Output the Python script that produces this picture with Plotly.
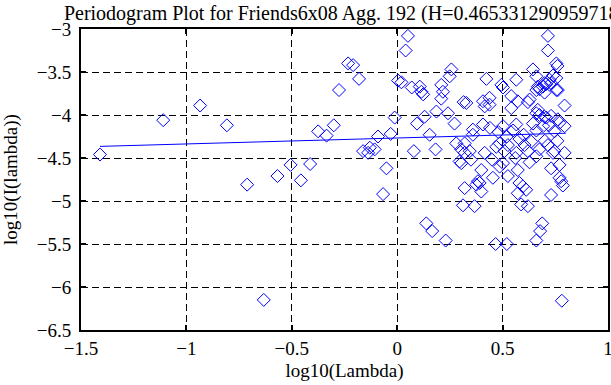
import plotly.graph_objects as go

# log10(Lambda) and log10(I(lambda)) periodogram points
log_lambda = [
    -1.41, -1.11, -0.935, -0.808, -0.712, -0.633, -0.568, -0.506, -0.457, -0.413,
    -0.375, -0.335, -0.301, -0.276, -0.233, -0.209, -0.181, -0.162, -0.138, -0.107,
    -0.130, -0.091, -0.067, -0.051, -0.031, -0.012, 0.004, 0.020, 0.040, 0.051,
    0.069, 0.079, 0.094, 0.107, 0.115, 0.123, 0.130, 0.138, 0.154, 0.166,
    0.182, 0.186, 0.209, 0.217, 0.209, 0.230, 0.241, 0.249, 0.257, 0.272,
    0.280, 0.296, 0.304, 0.304, 0.320, 0.315, 0.320, 0.312, 0.320, 0.328,
    0.344, 0.359, 0.359, 0.367, 0.375, 0.383, 0.391, 0.399, 0.399, 0.407,
    0.407, 0.415, 0.415, 0.423, 0.438, 0.438, 0.454, 0.467, 0.470, 0.486,
    0.486, 0.494, 0.502, 0.502, 0.502, 0.509, 0.520, 0.525, 0.525, 0.541,
    0.541, 0.565, 0.565, 0.565, 0.572, 0.572, 0.572, 0.580, 0.588, 0.596,
    0.604, 0.612, 0.620, 0.620, 0.628, 0.628, 0.636, 0.644, 0.644, 0.660,
    0.660, 0.660, 0.660, 0.667, 0.667, 0.675, 0.675, 0.675, 0.678, 0.688,
    0.691, 0.692, 0.699, 0.699, 0.699, 0.707, 0.707, 0.715, 0.715, 0.715,
    0.723, 0.730, 0.730, 0.730, 0.739, 0.739, 0.746, 0.746, 0.755, 0.760,
    0.755, 0.762, 0.762, 0.770, 0.770, 0.770, 0.778, 0.786, 0.781, 0.794,
    0.794, 0.794, 0.730, 0.755, 0.440, 0.480, 0.550, 0.600, 0.660, 0.720,
    0.580, 0.520, 0.620, 0.700, 0.560, 0.450, 0.660, 0.760, 0.350,
]
log_periodogram = [
    -4.46, -4.06, -3.89, -4.12, -4.81, -6.15, -4.71, -4.58, -4.76, -4.57,
    -4.19, -4.24, -4.12, -3.71, -3.40, -3.42, -3.58, -4.42, -4.44, -4.40,
    -4.38, -4.25, -4.92, -4.62, -4.22, -4.03, -3.60, -3.62, -3.25, -3.08,
    -3.68, -4.42, -4.10, -3.67, -3.73, -3.76, -4.02, -5.26, -4.23, -5.35,
    -4.40, -3.96, -3.65, -3.73, -3.81, -5.46, -3.98, -3.55, -3.47, -4.10,
    -4.33, -4.54, -4.56, -4.40, -4.44, -3.85, -4.33, -5.05, -4.85, -3.86,
    -4.42, -4.23, -4.17, -5.06, -4.81, -4.77, -4.79, -4.89, -4.64, -4.11,
    -3.84, -3.90, -4.44, -3.58, -3.80, -3.88, -4.73, -5.50, -4.37, -4.33,
    -4.60, -3.65, -3.68, -4.13, -4.56, -4.42, -5.50, -4.35, -4.71, -3.78,
    -3.92, -3.59, -4.11, -4.44, -3.84, -4.64, -4.91, -4.79, -5.04, -4.83,
    -4.35, -4.87, -3.85, -5.06, -3.82, -4.55, -4.31, -3.47, -4.10, -3.55,
    -3.71, -3.98, -5.46, -3.67, -3.94, -3.70, -4.00, -4.40, -5.35, -5.26,
    -3.67, -4.13, -3.63, -3.74, -4.02, -3.64, -4.03, -3.08, -3.25, -4.35,
    -3.59, -4.01, -4.62, -4.93, -3.54, -4.44, -4.19, -4.42, -3.40, -3.43,
    -3.57, -3.71, -4.05, -4.09, -4.58, -4.73, -4.77, -4.82, -6.16, -3.89,
    -4.13, -4.44, -3.63, -3.71, -4.15, -4.20, -4.18, -4.23, -4.18, -4.12,
    -4.28, -4.25, -4.42, -4.30, -4.50, -4.52, -4.48, -4.30, -4.52,
]

# least-squares fit line end points
fit_x = [-1.41, 0.80]
fit_y = [-4.365, -4.212]

title_text = "Periodogram Plot for Friends6x08 Agg. 192 (H=0.465331290959718)"
x_ticks = [-1.5, -1, -0.5, 0, 0.5, 1]
y_ticks = [-6.5, -6, -5.5, -5, -4.5, -4, -3.5, -3]

FONT = "Liberation Serif, Times New Roman, serif"
BLUE = "#0000ff"

fig = go.Figure()
fig.add_trace(go.Scatter(
    x=log_lambda, y=log_periodogram, mode="markers",
    marker=dict(symbol="diamond-open", size=10, color=BLUE, line=dict(width=1, color=BLUE)),
    showlegend=False, hoverinfo="skip", cliponaxis=False,
))
fig.add_trace(go.Scatter(
    x=fit_x, y=fit_y, mode="lines",
    line=dict(color=BLUE, width=1), showlegend=False, hoverinfo="skip",
))

axis_common = dict(
    showline=True, linecolor="black", linewidth=2, mirror="ticks",
    ticks="inside", ticklen=5, tickwidth=2, tickcolor="black",
    showgrid=True, gridcolor="black", gridwidth=1, griddash="7px,4px",
    zeroline=False, tickfont=dict(family=FONT, size=19, color="black"),
    automargin=False, ticklabeloverflow="allow",
)

fig.update_xaxes(range=[-1.5, 1], tickvals=x_ticks,
                 ticktext=[f"{v:g}".replace("-", "\u2212") for v in x_ticks],
                 title=dict(text="log10(Lambda)", font=dict(family=FONT, size=19, color="black"), standoff=6),
                 **axis_common)
fig.update_yaxes(range=[-6.5, -3], tickvals=y_ticks,
                 ticktext=[f"{v:g}".replace("-", "\u2212") for v in y_ticks],
                 title=dict(text="log10(I(lambda))", font=dict(family=FONT, size=19, color="black"), standoff=19),
                 ticklabelstandoff=4,
                 **axis_common)

fig.update_layout(
    width=611, height=385,
    margin=dict(l=81, r=3, t=29, b=55, autoexpand=False),
    paper_bgcolor="white", plot_bgcolor="white",
    title=dict(text=title_text, x=0.5, xref="paper", xanchor="center",
               y=1 - 13 / 385, yref="container", yanchor="middle",
               font=dict(family=FONT, size=20, color="black")),
    font=dict(family=FONT, color="black"),
)

fig.write_html("out.html", config={"displayModeBar": False},
               post_script="document.body.style.margin='0';document.body.style.overflow='hidden';")
